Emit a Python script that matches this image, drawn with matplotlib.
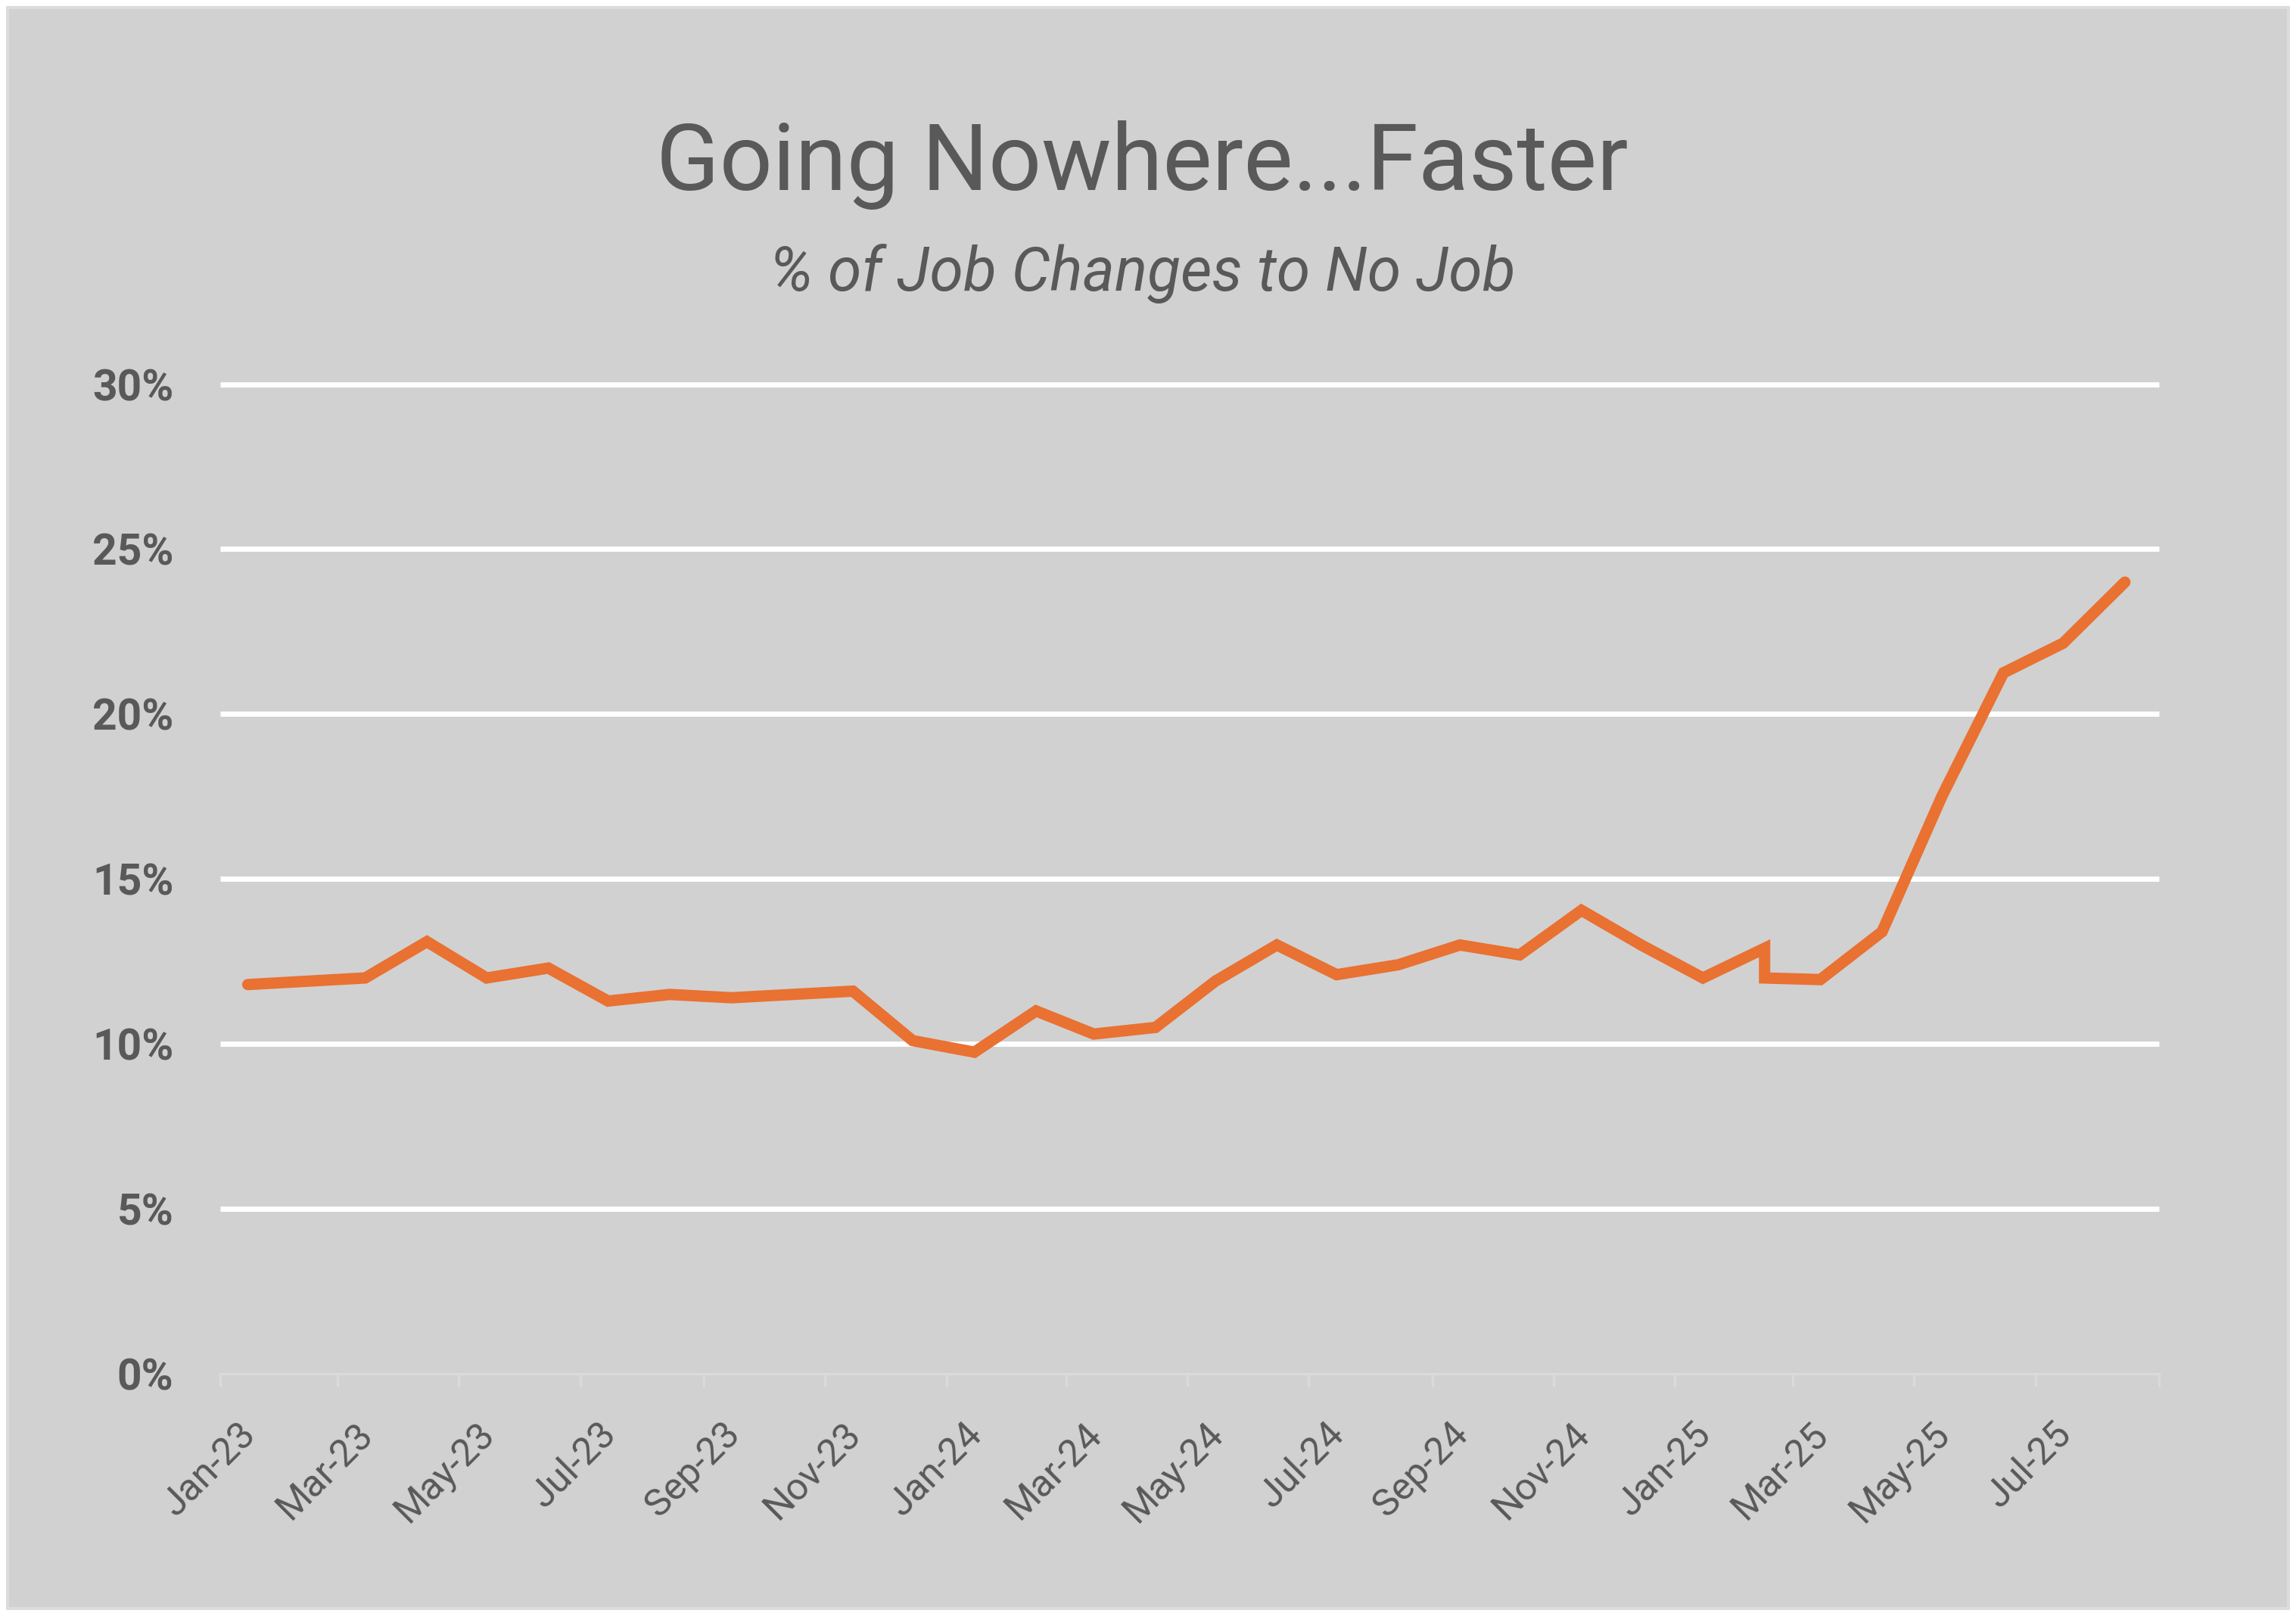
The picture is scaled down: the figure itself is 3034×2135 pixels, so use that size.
import matplotlib
matplotlib.use("Agg")
import matplotlib.pyplot as plt
import matplotlib.dates as mdates
import matplotlib.transforms as mtransforms
from matplotlib.patches import Rectangle
from matplotlib.ticker import FuncFormatter
import pandas as pd

# data (share of job changes that end in no job)
dates = ["2023-01-15", "2023-03-15", "2023-04-15", "2023-05-15", "2023-06-15",
         "2023-07-15", "2023-08-15", "2023-09-15", "2023-11-15", "2023-12-15",
         "2024-01-15", "2024-02-15", "2024-03-15", "2024-04-15", "2024-05-15",
         "2024-06-15", "2024-07-15", "2024-08-15", "2024-09-15", "2024-10-15",
         "2024-11-15", "2024-12-15", "2025-01-15", "2025-02-15", "2025-02-15",
         "2025-03-15", "2025-04-15", "2025-05-15", "2025-06-15", "2025-07-15",
         "2025-08-15"]
pct_no_job = [11.8, 12.0, 13.1, 12.0, 12.3,
              11.3, 11.5, 11.4, 11.6, 10.1,
              9.75, 11.0, 10.3, 10.5, 11.9,
              13.0, 12.1, 12.4, 13.0, 12.7,
              14.05, 13.0, 12.0, 12.9, 12.0,
              11.95, 13.4, 17.5, 21.25, 22.15,
              24.0]
y_ticks = [0, 5, 10, 15, 20, 25, 30]
axis_start, axis_end = "2023-01-01", "2025-09-01"

title = "Going Nowhere...Faster"
subtitle = "% of Job Changes to No Job"

text_color = "#595959"
bg_color = "#d1d1d1"
line_color = "#e97132"
font = ["Roboto", "DejaVu Sans"]
plt.rcParams["font.family"] = font

dpi = 200
fig = plt.figure(figsize=(3034 / dpi, 2135 / dpi), dpi=dpi, facecolor="white")
fig.patches.append(Rectangle((10 / 3034, 10 / 2135), 3014 / 3034, 2115 / 2135,
                             transform=fig.transFigure, facecolor=bg_color,
                             edgecolor="#dcdcdc", linewidth=1.5, zorder=-10))

ax = fig.add_axes([290.6 / 3034, 320 / 2135, 2562 / 3034, 1307.4 / 2135])
ax.set_facecolor("none")

x = pd.to_datetime(dates)
ax.plot(x, [v / 100 for v in pct_no_job], color=line_color, linewidth=5.4,
        solid_capstyle="round", solid_joinstyle="miter", zorder=3)

ax.set_xlim(pd.Timestamp(axis_start), pd.Timestamp(axis_end))
ax.set_ylim(0, 0.30)
ax.set_yticks([t / 100 for t in y_ticks])
ax.set_yticklabels([f"{t}%" for t in y_ticks])

end_num = mdates.date2num(pd.Timestamp(axis_end))
ax.xaxis.set_major_locator(mdates.MonthLocator(bymonth=[1, 3, 5, 7, 9, 11]))
ax.xaxis.set_major_formatter(FuncFormatter(
    lambda v, pos: "" if v >= end_num - 1 else mdates.num2date(v).strftime("%b-%y")))

ax.grid(axis="y", color="white", linewidth=2.5)
ax.set_axisbelow(True)
gridlines = ax.yaxis.get_gridlines()
for gl in gridlines:
    gl.set_clip_on(False)
    gl.set_solid_capstyle("butt")
gridlines[0].set_visible(False)

for side in ["top", "right", "left"]:
    ax.spines[side].set_visible(False)
ax.spines["bottom"].set_color("#dadada")
ax.spines["bottom"].set_linewidth(1.2)

ax.tick_params(axis="y", length=0, pad=22, labelsize=20.5, labelcolor=text_color)
ax.tick_params(axis="x", length=6, width=1.2, color="#dadada", pad=20,
               labelsize=18, labelcolor=text_color)
for lab in ax.get_yticklabels():
    lab.set_fontweight("bold")

offset = mtransforms.ScaledTranslation(40 / dpi, 0, fig.dpi_scale_trans)
for lab in ax.get_xticklabels():
    lab.set_rotation(45)
    lab.set_rotation_mode("anchor")
    lab.set_ha("right")
    lab.set_va("center")
    lab.set_transform(lab.get_transform() + offset)

fig.text(0.4975, 1 - 251 / 2135, title, ha="center", va="baseline",
         fontsize=44.3, color=text_color)
fig.text(0.4975, 1 - 384 / 2135, subtitle, ha="center", va="baseline",
         fontsize=29, style="italic", color=text_color)

fig.savefig("out.png", dpi=dpi, facecolor="white")
